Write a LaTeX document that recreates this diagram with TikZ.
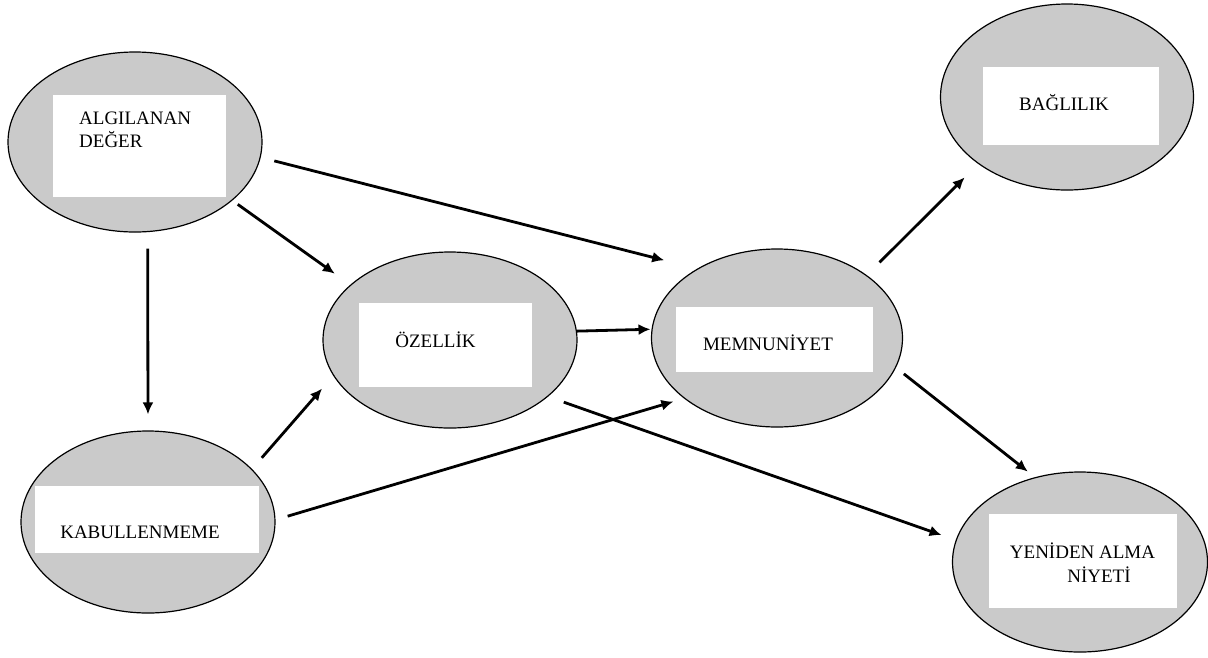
\documentclass[tikz,border=0pt]{standalone}
\usepackage{fontspec}
\setmainfont{Liberation Serif}
\usetikzlibrary{arrows.meta,shapes.geometric}
\definecolor{ellgray}{RGB}{202,202,202}
\begin{document}
\begin{tikzpicture}[x=1pt,y=-1pt,
  ell/.style={ellipse, draw=black, line width=1.2pt, fill=ellgray, inner sep=0pt},
  wbox/.style={rectangle, fill=white, inner sep=0pt},
  lbl/.style={inner sep=0pt, font=\fontsize{19}{22}\selectfont},
  arr/.style={-{Latex[length=12pt,width=11pt]}, line width=2.8pt}]
\useasboundingbox (0,0) rectangle (1208,657);
\fill[white] (0,0) rectangle (1208,657);

% ellipses
\node[ell, minimum width=254pt, minimum height=180pt] (alg) at (135,142) {};
\node[ell, minimum width=254pt, minimum height=182pt] (kab) at (148,522) {};
\node[ell, minimum width=254pt, minimum height=176pt] (oz)  at (450,340) {};
\node[ell, minimum width=251pt, minimum height=178pt] (mem) at (777,338) {};
\node[ell, minimum width=253pt, minimum height=186pt] (bag) at (1067,97) {};
\node[ell, minimum width=255pt, minimum height=180pt] (yen) at (1080,562) {};

% white boxes
\node[wbox, minimum width=173pt, minimum height=102pt] (algbox) at (139.5,146) {};
\node[wbox, minimum width=224pt, minimum height=67pt]  (kabbox) at (147,519.5) {};
\node[wbox, minimum width=173pt, minimum height=84pt]  (ozbox)  at (445.5,345) {};
\node[wbox, minimum width=197pt, minimum height=65pt]  (membox) at (774.5,339.5) {};
\node[wbox, minimum width=176pt, minimum height=78pt]  (bagbox) at (1071,106) {};
\node[wbox, minimum width=188pt, minimum height=94pt]  (yenbox) at (1083,561) {};

% labels
\node[lbl, anchor=base west] (algt1) at (79,124) {ALGILANAN};
\node[lbl, anchor=base west] (algt2) at (79,147) {DEĞER};
\node[lbl, anchor=base] (kabt) at (140,538) {KABULLENMEME};
\node[lbl, anchor=base] (ozt) at (435.5,347) {ÖZELLİK};
\node[lbl, anchor=base] (memt) at (768,350) {MEMNUNİYET};
\node[lbl, anchor=base] (bagt) at (1064,110) {BAĞLILIK};
\node[lbl, anchor=base] (yent1) at (1082.5,558) {YENİDEN ALMA};
\node[lbl, anchor=base] (yent2) at (1099,582) {NİYETİ};

% connectors
\draw[arr, shorten <=14pt, shorten >=34pt] (alg.-7.7) -- (mem.139.3);
\draw[arr, shorten <=6.6pt, shorten >=19pt] (alg.-31.8) -- (oz.151);
\draw[arr, shorten <=16.4pt, shorten >=16pt] (alg.-82.4) -- (kab.90.6);
\draw[arr, shorten <=14.8pt, shorten >=17pt] (kab.27.2) -- (oz.197.5);
\draw[arr, shorten <=12.6pt, shorten >=11pt] (kab.1.6) -- (mem.213.7);
\draw[arr, shorten >=1pt] (oz.4.1) -- (mem.176.8);
\draw[arr, shorten <=16.6pt, shorten >=15pt] (oz.-30.1) -- (yen.170.4);
\draw[arr, shorten <=18pt, shorten >=19pt] (mem.35.7) -- (bag.217);
\draw[arr, shorten <=10pt, shorten >=9pt] (mem.-14.2) -- (yen.118);
\end{tikzpicture}
\end{document}
